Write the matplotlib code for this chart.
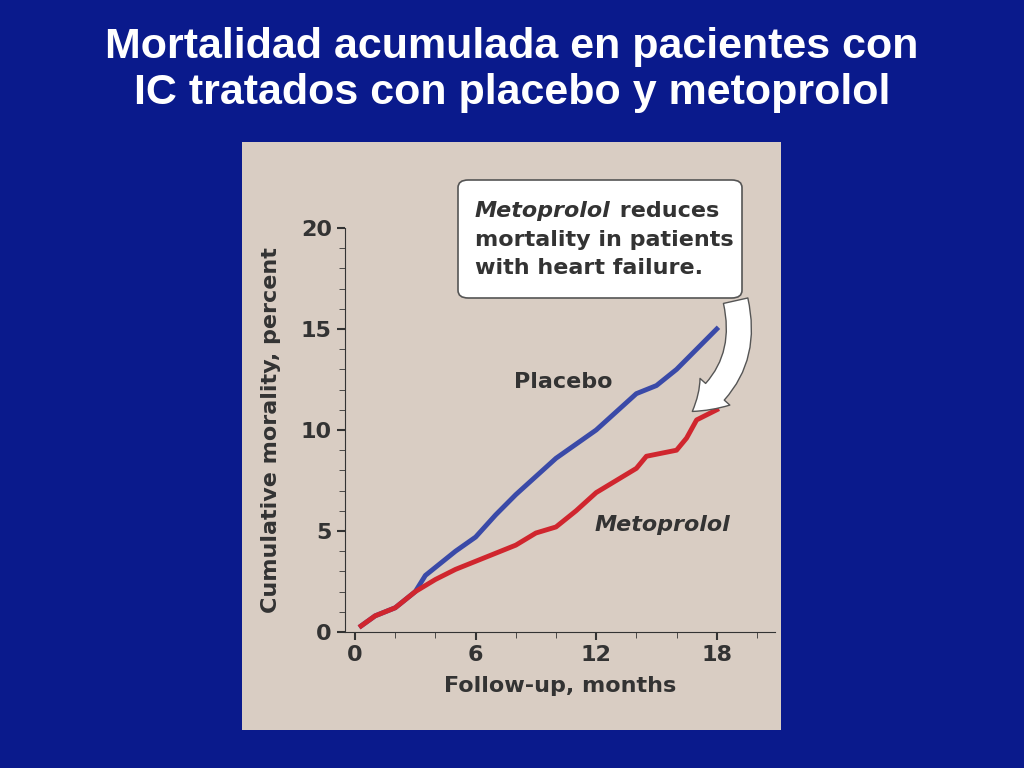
import matplotlib.pyplot as plt
from matplotlib.patches import FancyBboxPatch, FancyArrowPatch

months_placebo = [0.3, 1, 2, 3, 3.5, 4, 5, 6, 7, 8, 9, 10, 11, 12, 13, 14, 15, 16, 17, 18]
placebo = [0.3, 0.8, 1.2, 2.0, 2.8, 3.2, 4.0, 4.7, 5.8, 6.8, 7.7, 8.6, 9.3, 10.0, 10.9, 11.8, 12.2, 13.0, 14.0, 15.0]
months_meto = [0.3, 1, 2, 3, 4, 5, 6, 7, 8, 9, 10, 11, 12, 13, 14, 14.5, 15, 16, 16.5, 17, 18]
metoprolol = [0.3, 0.8, 1.2, 2.0, 2.6, 3.1, 3.5, 3.9, 4.3, 4.9, 5.2, 6.0, 6.9, 7.5, 8.1, 8.7, 8.8, 9.0, 9.6, 10.5, 11.0]
xticks = [0, 6, 12, 18]
yticks = [0, 5, 10, 15, 20]

fig = plt.figure(figsize=(10.24, 7.68), dpi=100)
fig.patch.set_facecolor("#0a1a8c")
fig.text(0.5, 0.965, "Mortalidad acumulada en pacientes con\nIC tratados con placebo y metoprolol",
         ha="center", va="top", color="white", fontsize=31, fontweight="bold",
         family="Liberation Sans", linespacing=1.2)

# beige panel
panel = fig.add_axes([242 / 1024, 38 / 768, 539 / 1024, 588 / 768])
panel.set_facecolor("#d9cdc3")
panel.set_xticks([]); panel.set_yticks([])
for s in panel.spines.values():
    s.set_visible(False)

ax = fig.add_axes([345 / 1024, 136 / 768, 430 / 1024, 404 / 768])
ax.patch.set_alpha(0)
ax.plot(months_placebo, placebo, color="#3a4aa8", lw=3.5)
ax.plot(months_meto, metoprolol, color="#d0262e", lw=3.5)
ax.set_xlim(-0.5, 20.9)
ax.set_ylim(0, 20)
ax.set_xticks(xticks)
ax.set_yticks(yticks)
ax.set_xticks(range(0, 21, 2), minor=True)
ax.set_yticks(range(0, 21, 1), minor=True)
for s in ["top", "right"]:
    ax.spines[s].set_visible(False)
ax.spines["left"].set_color("#333333"); ax.spines["bottom"].set_color("#333333")
ax.tick_params(direction="out", colors="#333333", labelsize=16, length=6, width=1.5)
ax.tick_params(which="minor", direction="out", length=4, color="#333333")
for lab in ax.get_xticklabels() + ax.get_yticklabels():
    lab.set_fontweight("bold")
ax.set_xlabel("Follow-up, months", fontsize=16, fontweight="bold", color="#333333", labelpad=8)
ax.set_ylabel("Cumulative morality, percent", fontsize=16, fontweight="bold", color="#333333",
              labelpad=14)
ax.text(7.9, 12.1, "Placebo", fontsize=16, fontweight="bold", color="#333333")
ax.text(11.9, 5.0, "Metoprolol", fontsize=16, fontweight="bold", fontstyle="italic", color="#333333")

# callout
arrow = FancyArrowPatch((735 / 1024, 470 / 768), (690 / 1024, 355 / 768),
                        transform=fig.transFigure, connectionstyle="arc3,rad=-0.35",
                        arrowstyle="simple,head_width=1.6,head_length=1.2,tail_width=1.0",
                        mutation_scale=18, fc="white", ec="#555555", lw=1)
fig.patches.append(arrow)
box = FancyBboxPatch((458 / 1024, 470 / 768), 284 / 1024, 118 / 768,
                     boxstyle="round,pad=0,rounding_size=0.01", transform=fig.transFigure,
                     fc="white", ec="#555555", lw=1.2)
fig.patches.append(box)
fig.text(475 / 1024, 557 / 768, "Metoprolol", fontsize=16, fontweight="bold", fontstyle="italic",
         color="#333333", va="center")
fig.text(612 / 1024, 557 / 768, " reduces", fontsize=16, fontweight="bold", color="#333333", va="center")
fig.text(475 / 1024, 528 / 768, "mortality in patients", fontsize=16, fontweight="bold",
         color="#333333", va="center")
fig.text(475 / 1024, 500 / 768, "with heart failure.", fontsize=16, fontweight="bold",
         color="#333333", va="center")

fig.savefig("out.png", facecolor=fig.get_facecolor())
